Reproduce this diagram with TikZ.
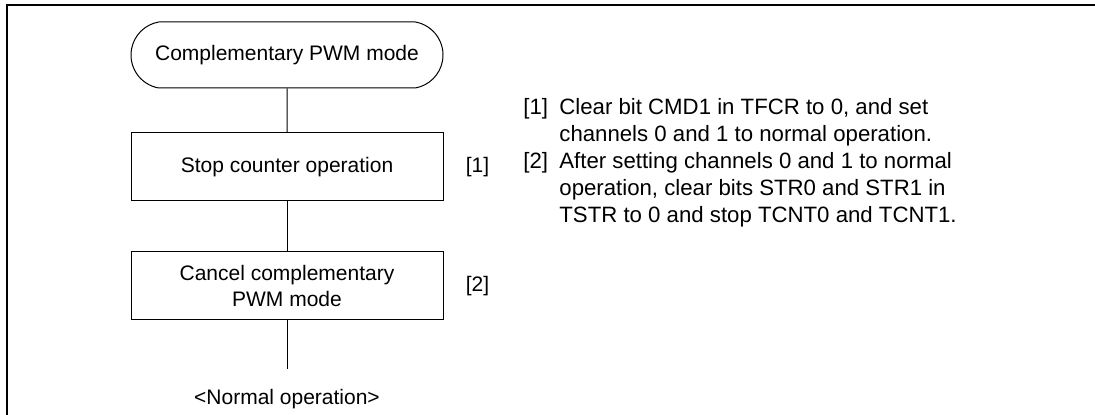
\documentclass[tikz,border=0pt]{standalone}
\usepackage{fontspec}
\setmainfont{Liberation Sans}
\usetikzlibrary{positioning,shapes.misc}
\tikzset{
  terminal/.style={
    shape = rounded rectangle,
    rounded rectangle arc length = 160,
    draw,
    line width = 0.5pt,
    minimum width = 156pt,
    minimum height = 33pt,
    inner sep = 0pt
  },
  process/.style={
    shape = rectangle,
    draw,
    line width = 0.5pt,
    minimum width = 156pt,
    minimum height = 34pt,
    align = center,
    inner sep = 0pt
  },
  flow/.style={
    line width = 0.5pt
  },
  frame/.style={
    line width = 1.3pt
  },
  tag/.style={
    inner sep = 0pt
  },
  note/.style={
    anchor = base west,
    align = left,
    inner sep = 0pt,
    font = \fontsize{11.1}{13.3}\selectfont
  }
}

\begin{document}
\begin{tikzpicture}[x=0.5pt,y=-0.5pt,font=\fontsize{10.5}{13.3}\selectfont]
    \def\gap{22pt}
    \def\lh{26.6} % one line of the notes
    \useasboundingbox (0,0) rectangle (1095,415);
    \draw[frame] (7,415) -- (7,5) -- (1095,5);
    % flow chart
    \node[terminal] (start) at (287,55) {Complementary PWM mode};
    \node[process, below=\gap of start] (stop) {Stop counter operation};
    \node[process, below=25pt of stop] (cancel) {Cancel complementary\\PWM mode};
    \node[tag, inner ysep=9.5pt, below=24.5pt of cancel] (normal) {<Normal operation>};
    \draw[flow] (start) -- (stop);
    \draw[flow] (stop) -- (cancel);
    \draw[flow] (cancel) -- (normal);
    \node[tag, right=11pt of stop] (mark1) {[1]};
    \node[tag, right=11pt of cancel] (mark2) {[2]};
    % notes (base = last line)
    \node[note] (key1) at (523,115) {[1]};
    \node[note] (text1) at (559,115+\lh) {Clear bit CMD1 in TFCR to 0, and set\\channels 0 and 1 to normal operation.};
    \node[note] (key2) at (523,169) {[2]};
    \node[note] (text2) at (559,169+2*\lh) {After setting channels 0 and 1 to normal\\operation, clear bits STR0 and STR1 in\\TSTR to 0 and stop TCNT0 and TCNT1.};
\end{tikzpicture}
\end{document}
